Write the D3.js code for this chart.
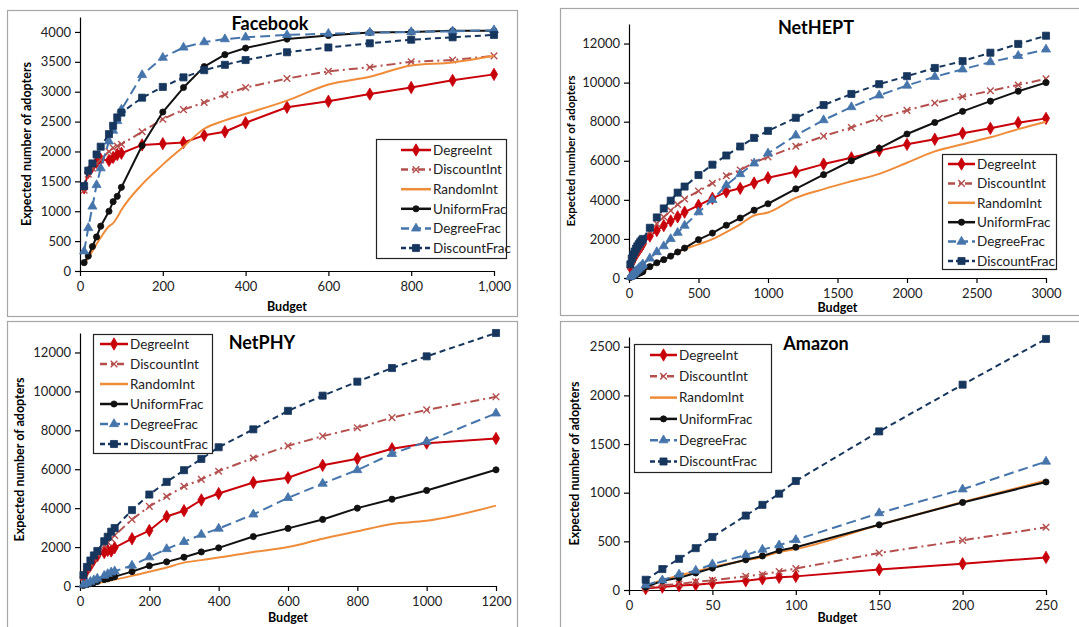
<!DOCTYPE html>
<html>
<head>
<meta charset="utf-8">
<script src="https://cdn.jsdelivr.net/npm/d3@7"></script>
<style>
  body { margin: 0; background: #fff; }
  svg { display: block; font-family: Lato, "Noto Sans", sans-serif; }
  .axis path, .axis line { stroke: #000; stroke-width: 1.2; }
  .axis text { font-size: 13px; fill: #222; font-family: Lato, sans-serif; }
</style>
</head>
<body>
<svg id="chart"></svg>
<script>
// Series names (legend order)
var seriesNames = ["DegreeInt", "DiscountInt", "RandomInt", "UniformFrac", "DegreeFrac", "DiscountFrac"];

// Facebook
var fbBudget       = [10, 20, 30, 40, 50, 70, 80, 90, 100, 150, 200, 250, 300, 350, 400, 500, 600, 700, 800, 900, 1000];
var fbDegreeInt    = [1390, 1650, 1750, 1820, 1870, 1850, 1900, 1950, 1970, 2110, 2130, 2150, 2270, 2330, 2480, 2740, 2840, 2960, 3070, 3190, 3290];
var fbDiscountInt  = [1350, 1620, 1720, 1800, 1860, 2000, 2060, 2090, 2120, 2330, 2540, 2700, 2820, 2950, 3070, 3220, 3340, 3410, 3500, 3530, 3600];
var fbRandomInt    = [120, 220, 330, 450, 560, 750, 800, 900, 1020, 1450, 1780, 2080, 2380, 2520, 2630, 2850, 3120, 3250, 3440, 3490, 3600];
var fbUniformFrac  = [140, 250, 410, 570, 750, 1000, 1160, 1250, 1400, 2100, 2660, 3070, 3420, 3620, 3730, 3880, 3940, 3990, 4000, 4020, 4020];
var fbDegreeFrac   = [330, 720, 1080, 1440, 1720, 2170, 2350, 2510, 2700, 3280, 3570, 3740, 3830, 3880, 3910, 3950, 3970, 3990, 4000, 4010, 4030];
var fbDiscountFrac = [1420, 1680, 1800, 1950, 2080, 2290, 2430, 2570, 2650, 2900, 3080, 3240, 3360, 3450, 3530, 3660, 3740, 3810, 3870, 3910, 3950];

// NetHEPT
var hepBudget       = [10, 20, 30, 40, 50, 60, 70, 80, 90, 100, 150, 200, 250, 300, 350, 400, 500, 600, 700, 800, 900, 1000, 1200, 1400, 1600, 1800, 2000, 2200, 2400, 2600, 2800, 3000];
var hepDegreeInt    = [550, 800, 950, 1100, 1200, 1320, 1430, 1530, 1640, 1750, 2150, 2430, 2680, 2920, 3130, 3370, 3720, 4080, 4410, 4590, 4860, 5130, 5440, 5830, 6150, 6520, 6840, 7100, 7410, 7660, 7950, 8170];
var hepDiscountInt  = [600, 880, 1050, 1200, 1330, 1450, 1570, 1680, 1790, 1900, 2400, 2780, 3120, 3450, 3760, 4040, 4450, 4850, 5230, 5530, 5900, 6200, 6740, 7260, 7700, 8180, 8580, 8960, 9280, 9580, 9880, 10200];
var hepRandomInt    = [30, 70, 100, 140, 170, 200, 240, 270, 300, 330, 560, 760, 950, 1120, 1320, 1480, 1720, 1990, 2350, 2750, 3200, 3350, 4100, 4550, 4950, 5330, 5900, 6480, 6850, 7200, 7620, 8000];
var hepUniformFrac  = [30, 70, 100, 140, 170, 200, 240, 270, 300, 330, 580, 780, 940, 1120, 1330, 1530, 1960, 2300, 2700, 3070, 3470, 3800, 4560, 5290, 6000, 6640, 7370, 7960, 8530, 9050, 9560, 10000];
var hepDegreeFrac   = [60, 130, 200, 270, 340, 410, 480, 550, 620, 700, 1000, 1330, 1630, 2000, 2320, 2680, 3370, 4000, 4750, 5320, 5870, 6380, 7300, 8080, 8750, 9350, 9850, 10300, 10680, 11050, 11370, 11700];
var hepDiscountFrac = [700, 1000, 1200, 1350, 1500, 1620, 1730, 1830, 1920, 2000, 2570, 3100, 3560, 3960, 4370, 4680, 5270, 5800, 6270, 6730, 7170, 7530, 8200, 8850, 9420, 9920, 10330, 10750, 11100, 11530, 11980, 12400];

// NetPHY
var phyBudget       = [10, 20, 30, 40, 50, 70, 80, 90, 100, 150, 200, 250, 300, 350, 400, 500, 600, 700, 800, 900, 1000, 1200];
var phyDegreeInt    = [450, 800, 1050, 1350, 1550, 1720, 1830, 1800, 1970, 2430, 2850, 3570, 3870, 4420, 4750, 5320, 5560, 6200, 6540, 7050, 7340, 7580];
var phyDiscountInt  = [470, 860, 1150, 1400, 1650, 2080, 2250, 2430, 2600, 3420, 4090, 4600, 5120, 5480, 5900, 6580, 7200, 7700, 8130, 8650, 9050, 9720];
var phyRandomInt    = [30, 60, 90, 120, 150, 220, 260, 300, 330, 520, 730, 950, 1200, 1330, 1460, 1750, 2000, 2430, 2810, 3190, 3350, 4130];
var phyUniformFrac  = [30, 70, 120, 170, 230, 330, 370, 430, 480, 740, 1040, 1240, 1480, 1750, 1960, 2540, 2960, 3420, 4000, 4460, 4910, 5970];
var phyDegreeFrac   = [70, 140, 220, 300, 380, 530, 620, 700, 760, 1050, 1480, 1900, 2270, 2640, 2950, 3680, 4530, 5260, 5960, 6790, 7420, 8870];
var phyDiscountFrac = [560, 980, 1310, 1570, 1800, 2300, 2530, 2790, 2980, 3900, 4700, 5350, 5950, 6530, 7130, 8050, 9000, 9780, 10500, 11200, 11800, 13000];

// Amazon
var amzBudget       = [10, 20, 30, 40, 50, 70, 80, 90, 100, 150, 200, 250];
var amzDegreeInt    = [15, 30, 45, 55, 70, 95, 115, 130, 140, 210, 270, 335];
var amzDiscountInt  = [20, 50, 60, 85, 100, 140, 160, 190, 220, 380, 510, 645];
var amzRandomInt    = [40, 100, 150, 190, 235, 305, 340, 390, 420, 670, 905, 1125];
var amzUniformFrac  = [30, 95, 125, 175, 225, 310, 350, 405, 440, 670, 900, 1110];
var amzDegreeFrac   = [50, 100, 160, 200, 265, 360, 415, 460, 515, 790, 1035, 1320];
var amzDiscountFrac = [105, 215, 320, 430, 545, 765, 875, 990, 1120, 1630, 2110, 2580];

// Line styles per series
var styles = {
  DegreeInt:    {color: "#c8000a", dash: null,      legendDash: null,      symbol: d3.symbolDiamond,  size: 44, fill: true},
  DiscountInt:  {color: "#b3504e", dash: "9,4,2,4", legendDash: "7,4,2,4", symbol: d3.symbolTimes,    size: 30, fill: false},
  RandomInt:    {color: "#ef8c3a", dash: null,      legendDash: null,      symbol: null,              size: 0,  fill: true, smooth: true},
  UniformFrac:  {color: "#111111", dash: null,      legendDash: null,      symbol: d3.symbolCircle,   size: 30, fill: true},
  DegreeFrac:   {color: "#4675ab", dash: "10,5",    legendDash: "8,4",     symbol: d3.symbolTriangle, size: 36, fill: true},
  DiscountFrac: {color: "#17365d", dash: "6,4",     legendDash: "5,3",     symbol: d3.symbolSquare,   size: 50, fill: true}
};

// Panel layout
var panels = [
  {title: "Facebook", box: [7, 10, 517, 316], left: 80, right: 494, top: 17, bottom: 271,
   xDomain: [0, 1000], yDomain: [0, 4250], xTicks: d3.range(0, 1001, 200), yTicks: d3.range(0, 4001, 500),
   xFmt: d3.format(","), titleX: 270, titleY: 30, xLabY: 311, yLabX: 27, yLabSize: 12.5,
   legend: {x: 376, y: 139, w: 130, h: 119, row0: 150, step: 19.6, lx0: 401, lx1: 431},
   budget: fbBudget, values: [fbDegreeInt, fbDiscountInt, fbRandomInt, fbUniformFrac, fbDegreeFrac, fbDiscountFrac]},
  {title: "NetHEPT", box: [560, 8, 1085, 315], left: 629, right: 1046, top: 24, bottom: 278,
   xDomain: [0, 3000], yDomain: [0, 13000], xTicks: d3.range(0, 3001, 500), yTicks: d3.range(0, 12001, 2000),
   xFmt: d3.format("d"), titleX: 816, titleY: 34, xLabY: 312, yLabX: 571, yLabSize: 11.5,
   legend: {x: 942, y: 154, w: 114, h: 115, row0: 164, step: 19.4, lx0: 948, lx1: 975},
   budget: hepBudget, values: [hepDegreeInt, hepDiscountInt, hepRandomInt, hepUniformFrac, hepDegreeFrac, hepDiscountFrac]},
  {title: "NetPHY", box: [7, 321, 517, 640], left: 80, right: 496, top: 333, bottom: 586,
   xDomain: [0, 1200], yDomain: [0, 13000], xTicks: d3.range(0, 1201, 200), yTicks: d3.range(0, 12001, 2000),
   xFmt: d3.format("d"), titleX: 262, titleY: 349, xLabY: 622, yLabX: 20, yLabSize: 12.5,
   legend: {x: 93, y: 334, w: 119, h: 119, row0: 344, step: 20, lx0: 100, lx1: 128},
   budget: phyBudget, values: [phyDegreeInt, phyDiscountInt, phyRandomInt, phyUniformFrac, phyDegreeFrac, phyDiscountFrac]},
  {title: "Amazon", box: [560, 321, 1085, 640], left: 629, right: 1046, top: 337, bottom: 590,
   xDomain: [0, 250], yDomain: [0, 2600], xTicks: d3.range(0, 251, 50), yTicks: d3.range(0, 2501, 500),
   xFmt: d3.format("d"), titleX: 816, titleY: 350, xLabY: 622, yLabX: 575, yLabSize: 12.5,
   legend: {x: 634, y: 344, w: 137, h: 128, row0: 355, step: 21.3, lx0: 650, lx1: 677},
   budget: amzBudget, values: [amzDegreeInt, amzDiscountInt, amzRandomInt, amzUniformFrac, amzDegreeFrac, amzDiscountFrac]}
];

var width = 1079, height = 627;

var svg = d3.select("#chart")
    .attr("width", width)
    .attr("height", height);

// Draw a marker at (0,0) of a group
function drawMarker(g, st) {
  if (!st.symbol) return;
  g.append("path")
    .attr("d", d3.symbol().type(st.symbol).size(st.size)())
    .attr("fill", st.fill ? st.color : "none")
    .attr("stroke", st.color)
    .attr("stroke-width", st.fill ? 0.8 : 1.4);
}

panels.forEach(function(p) {
  var g = svg.append("g");

  // Panel frame
  g.append("rect")
    .attr("x", p.box[0] + 0.5).attr("y", p.box[1] + 0.5)
    .attr("width", p.box[2] - p.box[0]).attr("height", p.box[3] - p.box[1])
    .attr("fill", "none").attr("stroke", "#a6a6a6").attr("stroke-width", 1.2);

  // Scales
  var x = d3.scaleLinear().domain(p.xDomain).range([p.left, p.right]);
  var y = d3.scaleLinear().domain(p.yDomain).range([p.bottom, p.top]);

  // Axes
  g.append("g")
    .attr("class", "axis")
    .attr("transform", "translate(0," + p.bottom + ")")
    .call(d3.axisBottom(x).tickValues(p.xTicks).tickFormat(p.xFmt).tickSize(5).tickSizeOuter(0).tickPadding(6));

  g.append("g")
    .attr("class", "axis")
    .attr("transform", "translate(" + p.left + ",0)")
    .call(d3.axisLeft(y).tickValues(p.yTicks).tickFormat(d3.format("d")).tickSize(5).tickSizeOuter(0).tickPadding(4));

  // Series lines and markers
  seriesNames.forEach(function(name, i) {
    var st = styles[name];
    var pts = p.budget.map(function(b, j) { return {b: b, v: p.values[i][j]}; });
    var line = d3.line()
      .x(function(d) { return x(d.b); })
      .y(function(d) { return y(d.v); })
      .curve(st.smooth ? d3.curveMonotoneX : d3.curveLinear);

    g.append("path")
      .attr("d", line(pts))
      .attr("fill", "none")
      .attr("stroke", st.color)
      .attr("stroke-width", 2)
      .attr("stroke-dasharray", st.dash)
      .attr("stroke-linejoin", "round");

    if (st.symbol) {
      g.append("g").selectAll("g")
        .data(pts)
        .enter().append("g")
          .attr("transform", function(d) { return "translate(" + x(d.b) + "," + y(d.v) + ")"; })
          .each(function() { drawMarker(d3.select(this), st); });
    }
  });

  // Title
  g.append("text")
    .attr("x", p.titleX).attr("y", p.titleY)
    .attr("text-anchor", "middle")
    .attr("font-size", 18).attr("font-weight", "bold")
    .text(p.title);

  // Axis titles
  g.append("text")
    .attr("x", (p.left + p.right) / 2).attr("y", p.xLabY)
    .attr("text-anchor", "middle")
    .attr("font-size", 12.5).attr("font-weight", "bold")
    .text("Budget");

  g.append("text")
    .attr("transform", "translate(" + p.yLabX + "," + ((p.top + p.bottom) / 2) + ") rotate(-90)")
    .attr("text-anchor", "middle")
    .attr("dy", "0.35em")
    .attr("font-size", p.yLabSize).attr("font-weight", "bold")
    .text("Expected number of adopters");

  // Legend
  var L = p.legend;
  var lg = g.append("g");
  lg.append("rect")
    .attr("x", L.x + 0.5).attr("y", L.y + 0.5)
    .attr("width", L.w).attr("height", L.h)
    .attr("fill", "#fff").attr("stroke", "#222").attr("stroke-width", 1.2);

  seriesNames.forEach(function(name, i) {
    var st = styles[name];
    var ry = L.row0 + i * L.step;
    lg.append("line")
      .attr("x1", L.lx0).attr("x2", L.lx1)
      .attr("y1", ry).attr("y2", ry)
      .attr("stroke", st.color).attr("stroke-width", 2.5)
      .attr("stroke-dasharray", st.legendDash);
    drawMarker(lg.append("g").attr("transform", "translate(" + ((L.lx0 + L.lx1) / 2) + "," + ry + ")"), st);
    lg.append("text")
      .attr("x", L.lx1 + 2).attr("y", ry)
      .attr("dy", "0.35em")
      .attr("font-size", 13.5)
      .attr("fill", "#222")
      .text(name);
  });
});
</script>
</body>
</html>
